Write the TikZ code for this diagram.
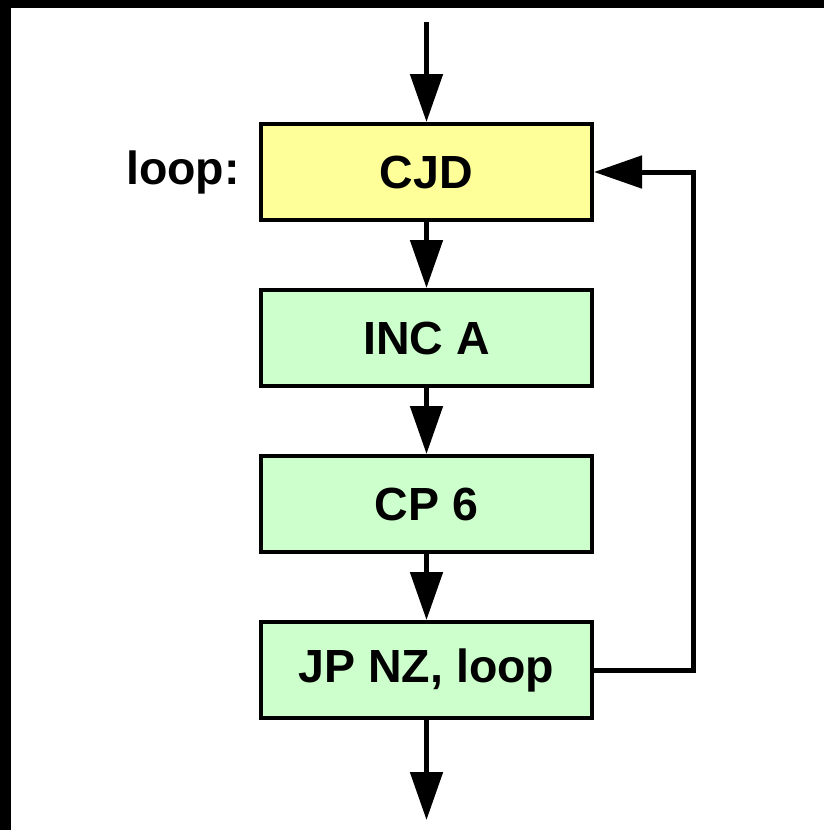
\documentclass[tikz,border=0pt]{standalone}
\usepackage{fontspec}
\setmainfont{Liberation Sans}
\usetikzlibrary{positioning,arrows.meta}
\definecolor{cjdyellow}{HTML}{FFFF99}
\definecolor{opgreen}{HTML}{CCFFCC}
\tikzset{
  opbox/.style={draw=black,line width=4pt,minimum width=331pt,minimum height=96pt,
    inner sep=0pt,font=\fontsize{46.5}{56}\selectfont\bfseries},
  flow/.style={draw=black,line width=5pt,line join=miter,
    -{Triangle[length=48pt,width=32pt]}}
}
\begin{document}
\begin{tikzpicture}[x=1pt,y=-1pt,node distance=66pt]
\useasboundingbox (0,0) rectangle (824,830);
\fill[white] (0,0) rectangle (824,830);
% Drawing frame
\fill[black] (0,0) rectangle (11,830);
\fill[black] (0,0) rectangle (824,8);
% Drawing boxes
\node[opbox,fill=cjdyellow] (cjd) at (426.5,172) {CJD};
\node[opbox,fill=opgreen,below=of cjd] (inca) {INC A};
\node[opbox,fill=opgreen,below=of inca] (cp) {CP 6};
\node[opbox,fill=opgreen,below=of cp] (jpnz) {JP NZ, loop};
\node[inner sep=0pt,left=19pt of cjd,font=\fontsize{46.5}{56}\selectfont\bfseries] (looplabel) {loop:};
% Drawing wires
\coordinate (start) at (426.5,22);
\coordinate (finish) at (426.5,820);
\draw[flow] (start) -- (cjd);
\draw[flow] (cjd) -- (inca);
\draw[flow] (inca) -- (cp);
\draw[flow] (cp) -- (jpnz);
\draw[flow] (jpnz) -- (finish);
% Drawing loop back
\draw[flow] (jpnz.east) -- ++(99,0) |- (cjd.east);
\end{tikzpicture}
\end{document}
